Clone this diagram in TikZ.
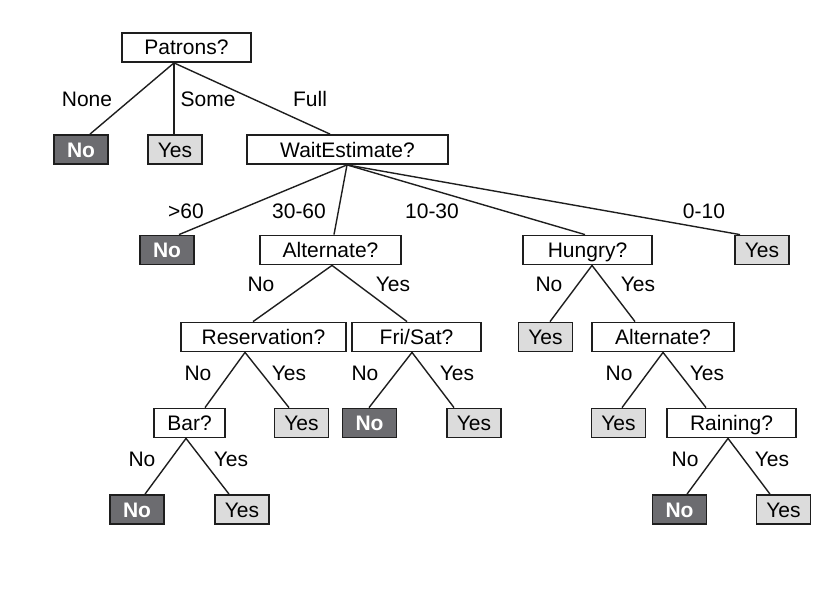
\documentclass[tikz,border=0pt]{standalone}
\usepackage{fontspec}
\setmainfont{Liberation Sans}
\usepackage{tikz}
\usetikzlibrary{positioning, calc}

\definecolor{darkleaf}{RGB}{108,108,112}
\definecolor{lightleaf}{RGB}{220,220,220}
\definecolor{inkgray}{RGB}{30,30,30}

\begin{document}
\begin{tikzpicture}[
    x=1pt, y=-1pt,
    test/.style={draw=inkgray, line width=1.8pt, fill=white, minimum height=29pt, inner sep=0pt, text height=15pt, text depth=0pt, font=\fontsize{21}{24}\selectfont},
    noleaf/.style={test, fill=darkleaf, text=white, font=\fontsize{21}{24}\selectfont\bfseries, minimum width=54pt},
    yesleaf/.style={test, fill=lightleaf, minimum width=54pt},
    edge/.style={draw=inkgray, line width=1.4pt},
    lbl/.style={font=\fontsize{21}{24}\selectfont, inner sep=0pt},
]
    \useasboundingbox (0,0) rectangle (834,594);

    % Root test
    \node[test, minimum width=129pt] (patrons) at (186.5,47.5) {Patrons?};

    % Level 1
    \node[noleaf] (no1) at (81,149.5) {No};
    \node[yesleaf] (yes1) at (175,149.5) {Yes};
    \node[test, minimum width=201pt] (wait) at (347.5,149.5) {WaitEstimate?};

    \draw[edge] ([xshift=-12.5]patrons.south) -- ([xshift=9]no1.north);
    \draw[edge] ([xshift=-12.5]patrons.south) -- ([xshift=-1]yes1.north);
    \draw[edge] ([xshift=-12.5]patrons.south) -- ([xshift=-17.5]wait.north);

    \node[lbl] (lNone) at (87,99) {None};
    \node[lbl] (lSome) at (208,99) {Some};
    \node[lbl] (lFull) at (310,99) {Full};

    % Level 2
    \node[noleaf] (no2) at (167,250) {No};
    \node[test, minimum width=141pt] (alt) at (330.5,250) {Alternate?};
    \node[test, minimum width=129pt] (hungry) at (587.5,250) {Hungry?};
    \node[yesleaf] (yes2) at (762,250) {Yes};

    \draw[edge] ([xshift=-0.5]wait.south) -- ([xshift=12]no2.north);
    \draw[edge] ([xshift=-0.5]wait.south) -- ([xshift=3.5]alt.north);
    \draw[edge] ([xshift=-0.5]wait.south) -- ([xshift=-2.5]hungry.north);
    \draw[edge] ([xshift=-0.5]wait.south) -- ([xshift=-22]yes2.north);

    \node[lbl] (lOver) at (186,211) {>60};
    \node[lbl] (lThirty) at (299,211) {30-60};
    \node[lbl] (lTen) at (432,211) {10-30};
    \node[lbl] (lZero) at (704,211) {0-10};

    % Level 3
    \node[test, minimum width=165pt] (reserv) at (263.5,337) {Reservation?};
    \node[test, minimum width=129pt] (frisat) at (416.5,337) {Fri/Sat?};
    \node[yesleaf] (yes3) at (545.5,337) {Yes};
    \node[test, minimum width=142pt] (alt2) at (663,337) {Alternate?};

    \draw[edge] ([xshift=1.5]alt.south) -- ([xshift=-10.5]reserv.north);
    \draw[edge] ([xshift=1.5]alt.south) -- ([xshift=-9.5]frisat.north);
    \draw[edge] ([xshift=4.5]hungry.south) -- ([xshift=4.5]yes3.north);
    \draw[edge] ([xshift=4.5]hungry.south) -- ([xshift=-28]alt2.north);

    \node[lbl] (lAltNo) at (261,284) {No};
    \node[lbl] (lAltYes) at (393,284) {Yes};
    \node[lbl] (lHunNo) at (549,284) {No};
    \node[lbl] (lHunYes) at (638,284) {Yes};

    % Level 4
    \node[test, minimum width=71pt] (bar) at (189.5,423) {Bar?};
    \node[yesleaf] (yes4a) at (301.5,423) {Yes};
    \node[noleaf] (no4) at (369.5,423) {No};
    \node[yesleaf] (yes4b) at (474,423) {Yes};
    \node[yesleaf] (yes4c) at (618.5,423) {Yes};
    \node[test, minimum width=129pt] (raining) at (731.5,423) {Raining?};

    \draw[edge] ([xshift=-18.5]reserv.south) -- ([xshift=15.5]bar.north);
    \draw[edge] ([xshift=-18.5]reserv.south) -- ([xshift=-12.5]yes4a.north);
    \draw[edge] ([xshift=-4.5]frisat.south) -- ([xshift=-0.5]no4.north);
    \draw[edge] ([xshift=-4.5]frisat.south) -- ([xshift=-20]yes4b.north);
    \draw[edge] (alt2.south) -- ([xshift=3.5]yes4c.north);
    \draw[edge] (alt2.south) -- ([xshift=-25.5]raining.north);

    \node[lbl] (lResNo) at (198,373) {No};
    \node[lbl] (lResYes) at (289,373) {Yes};
    \node[lbl] (lFriNo) at (365,373) {No};
    \node[lbl] (lFriYes) at (457,373) {Yes};
    \node[lbl] (lAlt2No) at (619,373) {No};
    \node[lbl] (lAlt2Yes) at (707,373) {Yes};

    % Level 5
    \node[noleaf] (no5a) at (137,509.5) {No};
    \node[yesleaf] (yes5a) at (242,509.5) {Yes};
    \node[noleaf] (no5b) at (679.5,509.5) {No};
    \node[yesleaf] (yes5b) at (783.5,509.5) {Yes};

    \draw[edge] ([xshift=-3.5]bar.south) -- ([xshift=8]no5a.north);
    \draw[edge] ([xshift=-3.5]bar.south) -- ([xshift=-13]yes5a.north);
    \draw[edge] ([xshift=-3.5]raining.south) -- ([xshift=7.5]no5b.north);
    \draw[edge] ([xshift=-3.5]raining.south) -- ([xshift=-13.5]yes5b.north);

    \node[lbl] (lBarNo) at (142,459) {No};
    \node[lbl] (lBarYes) at (231,459) {Yes};
    \node[lbl] (lRainNo) at (685,459) {No};
    \node[lbl] (lRainYes) at (772,459) {Yes};

\end{tikzpicture}
\end{document}
